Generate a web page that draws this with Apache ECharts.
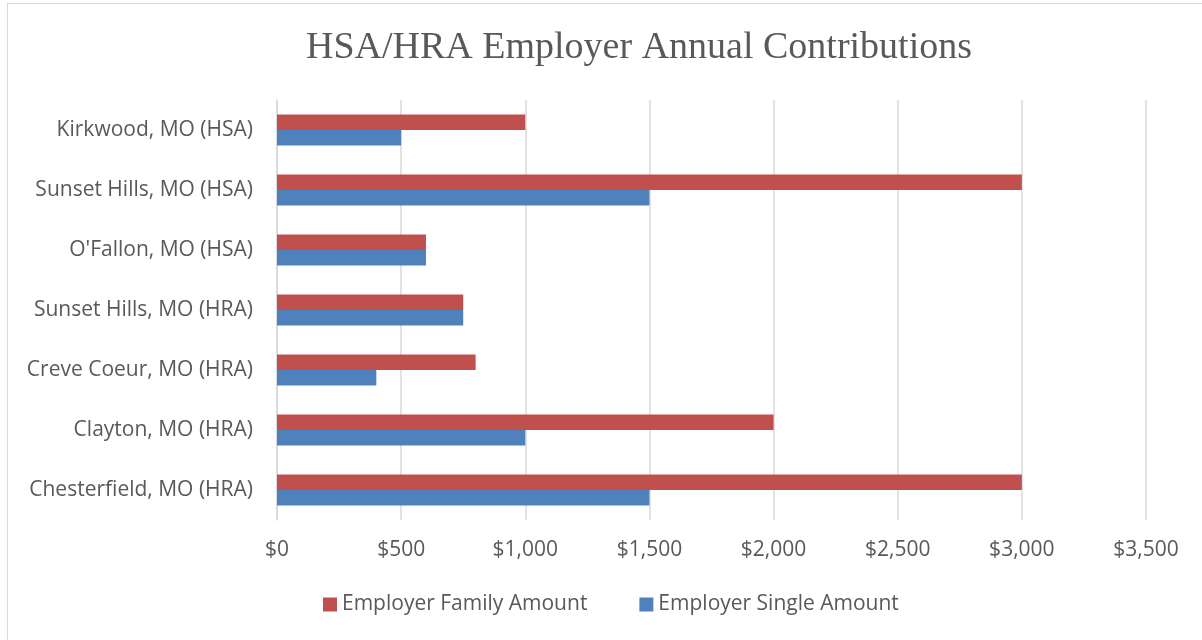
<!DOCTYPE html>
<html><head><meta charset="utf-8">
<script src="https://cdn.jsdelivr.net/npm/echarts@6/dist/echarts.min.js"></script>
<style>
html,body{margin:0;padding:0;background:#fff;width:1202px;height:640px;overflow:hidden;}
#frame{position:absolute;left:7px;top:3px;width:1220px;height:660px;border:1px solid #d9d9d9;box-sizing:border-box;}
#chart{position:absolute;left:0;top:0;width:1202px;height:640px;}
</style></head>
<body>
<div id="frame"></div>
<div id="chart"></div>
<script>
const categories = ["Kirkwood, MO (HSA)","Sunset Hills, MO (HSA)","O'Fallon, MO (HSA)","Sunset Hills, MO (HRA)","Creve Coeur, MO (HRA)","Clayton, MO (HRA)","Chesterfield, MO (HRA)"];
const familyAmount = [1000, 3000, 600, 750, 800, 2000, 3000];
const singleAmount = [500, 1500, 600, 750, 400, 1000, 1500];
const seriesNames = ["Employer Family Amount","Employer Single Amount"];
const xTicks = [0, 500, 1000, 1500, 2000, 2500, 3000, 3500];

const chart = echarts.init(document.getElementById('chart'), null, {renderer:'canvas'});
const font = "'Open Sans', 'Noto Sans', sans-serif";
chart.setOption({
  animation:false,
  backgroundColor:'transparent',
  title:{text:'HSA/HRA Employer Annual Contributions', left:634, textAlign:'center', top:24,
    textStyle:{fontFamily:"'Liberation Serif','DejaVu Serif',serif", fontWeight:'normal', fontSize:38, color:'#595959'}},
  legend:{data:seriesNames, bottom:20, left:318, itemWidth:14, itemHeight:14, itemGap:52, icon:'rect',
    textStyle:{fontFamily:font, fontSize:21, color:'#595959'}},
  grid:{left:277, right:56, top:100, bottom:120, containLabel:false},
  xAxis:{type:'value', min:xTicks[0], max:xTicks[xTicks.length-1], interval:500,
    axisLine:{show:false}, axisTick:{show:false},
    splitLine:{lineStyle:{color:'#d9d9d9', width:1.5}},
    axisLabel:{margin:20, fontFamily:font, fontSize:21, color:'#595959',
      formatter:v=>'$'+v.toLocaleString('en-US')}},
  yAxis:{type:'category', data:categories, inverse:true,
    axisLine:{show:true, lineStyle:{color:'#d9d9d9', width:1.5}}, axisTick:{show:false},
    axisLabel:{margin:24, fontFamily:font, fontSize:21, color:'#595959'}},
  series:[
    {name:seriesNames[0], type:'bar', data:familyAmount, itemStyle:{color:'#C0504D'}, barGap:'0%', barCategoryGap:'48%'},
    {name:seriesNames[1], type:'bar', data:singleAmount, itemStyle:{color:'#4F81BD'}, barGap:'0%', barCategoryGap:'48%'}
  ]
});
</script>
</body></html>
